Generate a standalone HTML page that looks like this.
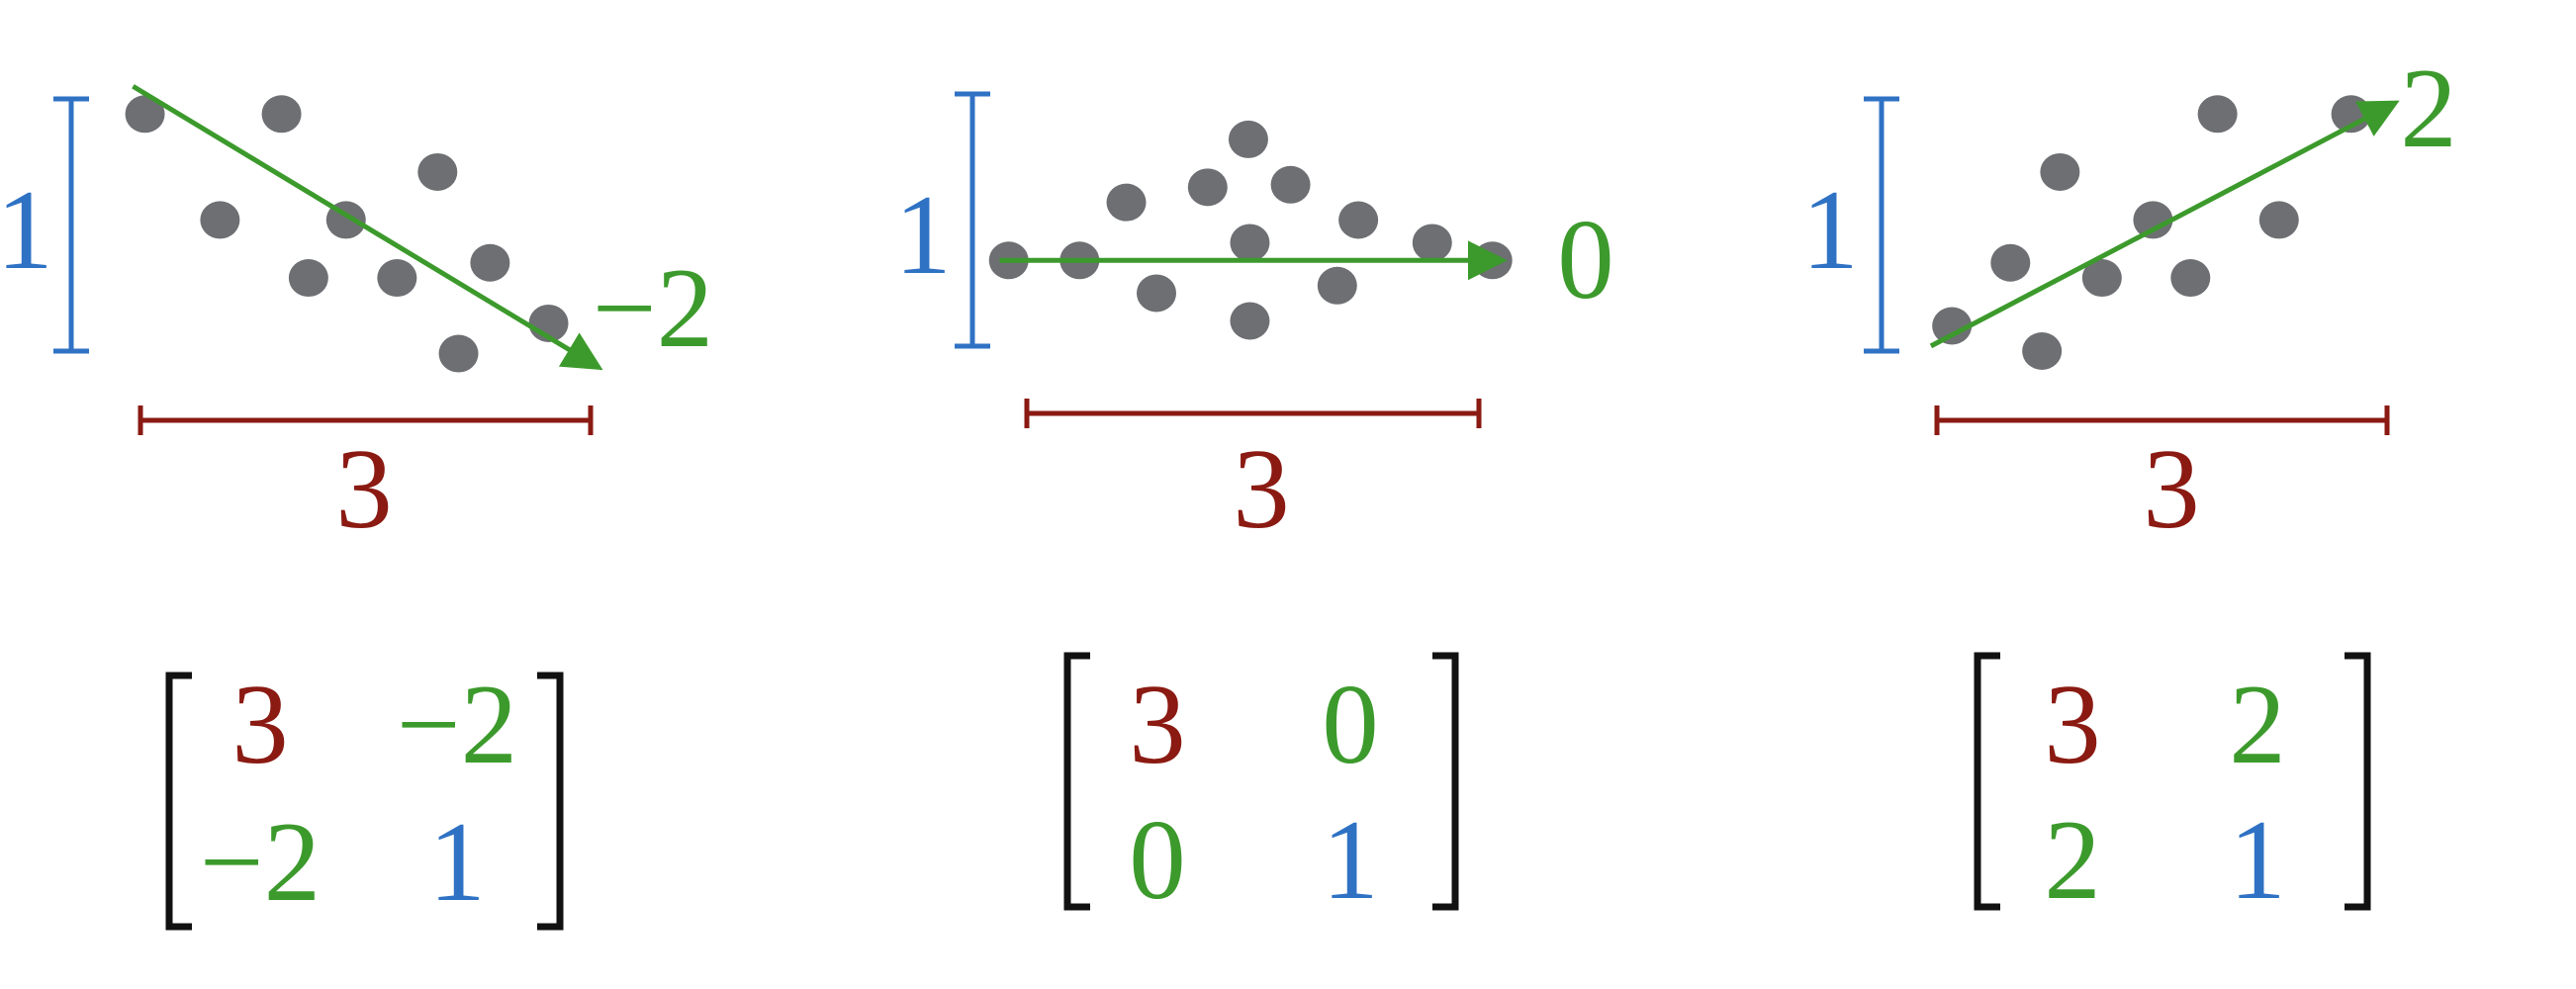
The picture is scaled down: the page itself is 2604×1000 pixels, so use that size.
<!DOCTYPE html>
<html><head><meta charset="utf-8">
<style>
html,body{margin:0;padding:0;background:#fff;}
svg{display:block;}
text{font-family:"Liberation Serif",serif;}
</style></head>
<body>
<svg id="fig" width="2604" height="1000" viewBox="0 0 2604 1000" xmlns="http://www.w3.org/2000/svg">
<defs>
<marker id="ah" markerWidth="9" markerHeight="9" refX="6.5" refY="4.5" orient="auto" markerUnits="strokeWidth">
<path d="M0,0.5 L8,4.5 L0,8.5 Z" fill="#3c9a2c"/>
</marker>
</defs>
</svg>
<script>
// ---- data (x in units of the red width bar 0..3, y in units of blue height bar 0..1)
const panelNames = ["negative-covariance", "zero-covariance", "positive-covariance"];
const p1X = [0.03,0.94,1.98,0.53,1.37,2.33,1.12,1.71,2.72,2.12];
const p1Y = [0.94,0.94,0.71,0.52,0.52,0.35,0.29,0.29,0.11,-0.01];
const p2X = [-0.12,0.35,0.66,0.86,1.20,1.47,1.48,1.48,1.75,2.20,2.06,2.69,3.09];
const p2Y = [0.34,0.34,0.57,0.21,0.63,0.82,0.41,0.10,0.64,0.50,0.24,0.41,0.34];
const p3X = [0.10,0.49,0.82,0.70,1.10,1.44,1.69,1.87,2.28,2.76];
const p3Y = [0.10,0.35,0.71,0.00,0.29,0.52,0.29,0.94,0.52,0.94];
const arrowFrom = [[-0.05,1.05],[-0.18,0.34],[-0.04,0.02]];
const arrowTo = [[3.04,-0.06],[3.14,0.34],[3.04,0.98]];
const covLabels = ["−2","0","2"];
const varX = ["3","3","3"];
const varY = ["1","1","1"];

// ---- layout
const layout = [
  {x0:142,x1:597,yb:355,yt:100,blueX:72,oneX:25,oneY:233,redY:425,threeX:368,
   lab:[660,312],lb:167,rb:570,bt:683,bb:937,c1:263,c2:462,r1:733,r2:872},
  {x0:1038,x1:1495,yb:350,yt:95,blueX:983,oneX:933,oneY:238,redY:418,threeX:1275,
   lab:[1603,263],lb:1075,rb:1475,bt:663,bb:917,c1:1170,c2:1365,r1:733,r2:870},
  {x0:1958,x1:2413,yb:355,yt:100,blueX:1902,oneX:1850,oneY:233,redY:425,threeX:2195,
   lab:[2455,110],lb:1995,rb:2397,bt:663,bb:917,c1:2095,c2:2282,r1:733,r2:870}
];
const dataX=[p1X,p2X,p3X], dataY=[p1Y,p2Y,p3Y];
const BLUE="#2f72c4", RED="#8a1a12", GREEN="#3c9a2c", GRAY="#6d6f73";
const FS=115, BO=38;
const NS="http://www.w3.org/2000/svg";
const svg=document.getElementById('fig');
function mk(tag,attrs,parent){const e=document.createElementNS(NS,tag);for(const k in attrs)e.setAttribute(k,attrs[k]);(parent||svg).appendChild(e);return e;}

layout.forEach((L,i)=>{
  const sx=v=>L.x0+v*(L.x1-L.x0)/3;
  const sy=v=>L.yb-v*(L.yb-L.yt);
  const g=mk('g',{});
  
  
  const bb=mk('path',{d:`M${L.blueX},${L.yt} V${L.yb} M${L.blueX-18},${L.yt} H${L.blueX+18} M${L.blueX-18},${L.yb} H${L.blueX+18}`,stroke:BLUE,'stroke-width':5,fill:'none'},g);
  
  
  const t1=mk('text',{x:L.oneX,y:L.oneY+BO,'font-size':FS,fill:BLUE,'text-anchor':'middle'},g);
  t1.textContent=varY[i];
  
  
  const rb=mk('path',{d:`M${L.x0},${L.redY} H${L.x1} M${L.x0},${L.redY-15} V${L.redY+15} M${L.x1},${L.redY-15} V${L.redY+15}`,stroke:RED,'stroke-width':5,fill:'none'},g);
  
  
  const t3=mk('text',{x:L.threeX,y:495+BO,'font-size':FS,fill:RED,'text-anchor':'middle'},g);
  t3.textContent=varX[i];
  
  
  dataX[i].forEach((v,j)=>{
    const d=mk('ellipse',{cx:sx(v),cy:sy(dataY[i][j]),rx:20,ry:19,fill:GRAY},g);
    
    
  });
  const a=mk('line',{x1:sx(arrowFrom[i][0]),y1:sy(arrowFrom[i][1]),x2:sx(arrowTo[i][0]),y2:sy(arrowTo[i][1]),stroke:GREEN,'stroke-width':5,'marker-end':'url(#ah)'},g);
  
  
  const cl=mk('text',{x:L.lab[0],y:L.lab[1]+BO,'font-size':FS,fill:GREEN,'text-anchor':'middle'},g);
  cl.textContent=covLabels[i];
  
  
  const m=mk('g',{},g);
  
  
  const lbk=mk('path',{d:`M${L.lb+27},${L.bt} H${L.lb+4} V${L.bb} H${L.lb+27}`,stroke:'#111','stroke-width':7,fill:'none'},m);
  
  
  const rbk=mk('path',{d:`M${L.rb-27},${L.bt} H${L.rb-4} V${L.bb} H${L.rb-27}`,stroke:'#111','stroke-width':7,fill:'none'},m);
  
  
  const cells=[[varX[i],RED,L.c1,L.r1],[covLabels[i],GREEN,L.c2,L.r1],[covLabels[i],GREEN,L.c1,L.r2],[varY[i],BLUE,L.c2,L.r2]];
  cells.forEach(c=>{
    const t=mk('text',{x:c[2],y:c[3]+BO,'font-size':FS,fill:c[1],'text-anchor':'middle'},m);
    t.textContent=c[0];
    
    
  });
});
</script>
</body></html>
